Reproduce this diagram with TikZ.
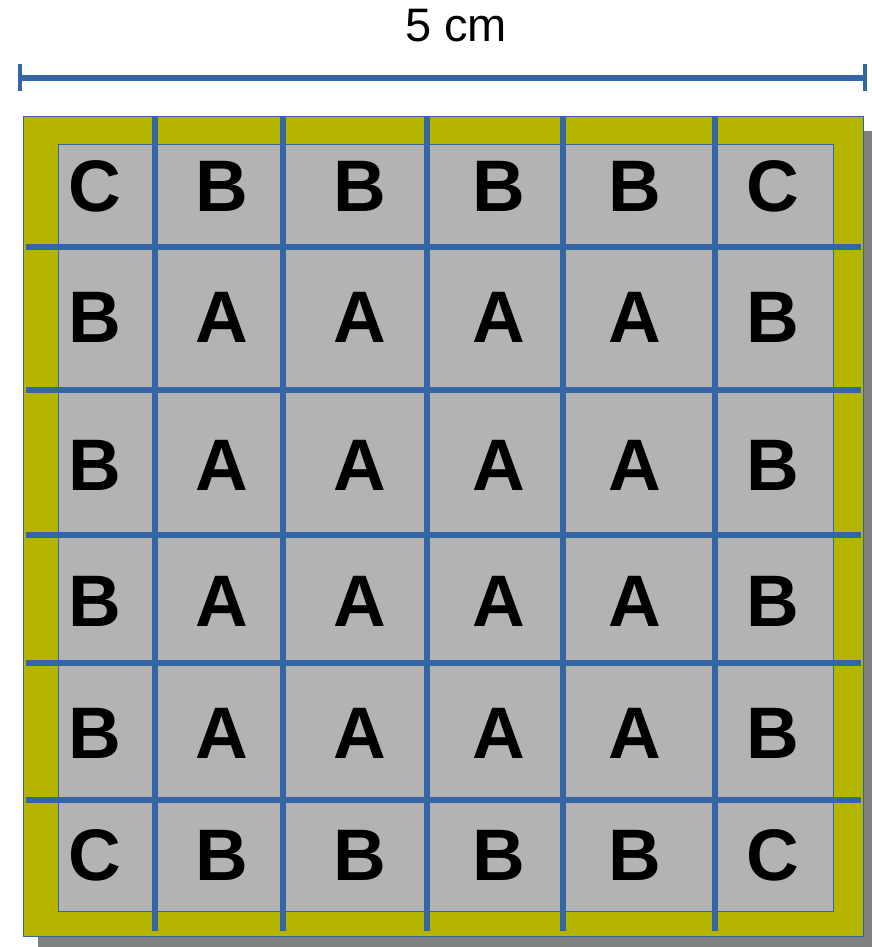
\documentclass[tikz,border=0pt]{standalone}
\usepackage{fontspec}
\setmainfont{Liberation Sans}

\definecolor{gridblue}{HTML}{3465A4}
\definecolor{padyellow}{HTML}{B5B500}
\definecolor{cellgray}{HTML}{B3B3B3}
\definecolor{shadowgray}{HTML}{808080}

\begin{document}
\begin{tikzpicture}[x = 1pt, y = -1pt,
	cell/.style = {font = \fontsize{73}{73}\selectfont\bfseries, inner sep = 0pt},
	gridline/.style = {gridblue, line width = 6.5pt}]
	\useasboundingbox (0, 0) rectangle (871, 947);
	
	% shadow, pad and chip
	\fill[shadowgray] (38, 131) rectangle (878, 951);
	\draw[gridblue, thin, fill = padyellow] (23, 116) rectangle (863, 936);
	\draw[gridblue, thin, fill = cellgray] (58, 144) rectangle (833, 911);
	
	% grid
	\foreach \x in {155, 283, 427, 563, 715}
	\draw[gridline] (\x, 116) -- (\x, 931);
	\foreach \y in {247, 390, 535, 663, 800}
	\draw[gridline] (26, \y) -- (861, \y);
	
	% cells
	\foreach \y/\e/\m [count = \i] in {186/C/B, 317/B/A, 465/B/A, 601/B/A, 733/B/A, 855/C/B}
	\foreach \x/\l [count = \j] in {95/\e, 222/\m, 360/\m, 499/\m, 635/\m, 773/\e}
	\node[cell] (c-\i-\j) at (\x, \y) {\l};
	
	% dimension
	\coordinate (dimL) at (20, 78);
	\coordinate (dimR) at (865, 78);
	\draw[gridline] (dimL) -- (dimR);
	\draw[gridblue, line width = 3.5pt] ([yshift = -13pt] dimL) -- ([yshift = 14pt] dimL);
	\draw[gridblue, line width = 3.5pt] ([yshift = -13pt] dimR) -- ([yshift = 14pt] dimR);
	\node[font = \fontsize{47}{47}\selectfont, inner sep = 0pt] (dimText) at (456, 26) {5 cm};
\end{tikzpicture}
\end{document}
